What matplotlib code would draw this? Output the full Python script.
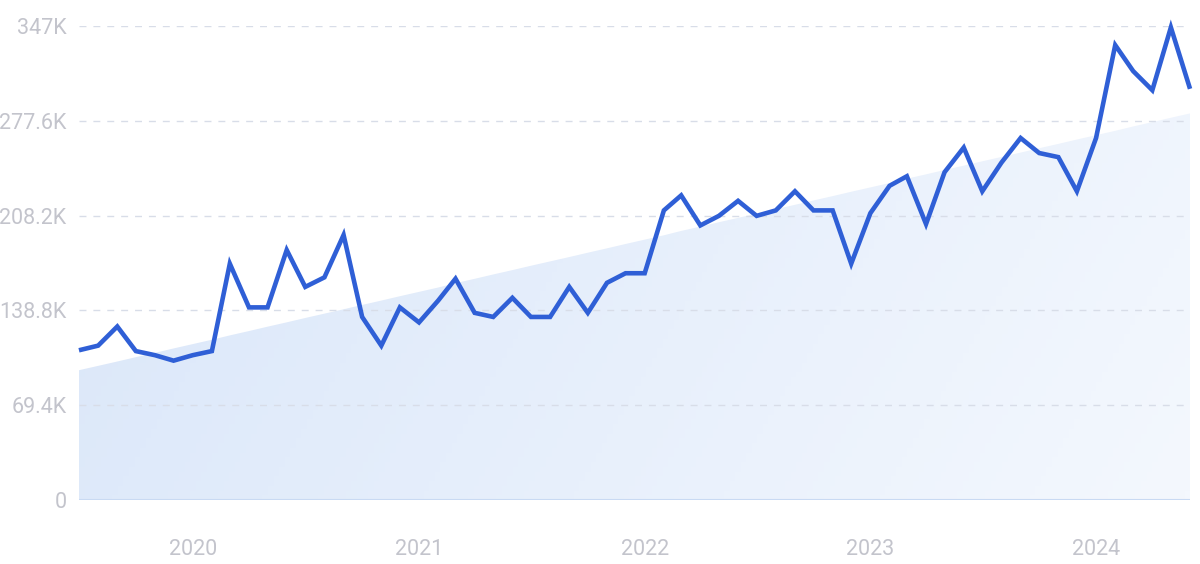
import numpy as np
import pandas as pd
import matplotlib
matplotlib.use("Agg")
import matplotlib.pyplot as plt
import matplotlib.dates as mdates
from matplotlib.colors import LinearSegmentedColormap
from matplotlib.ticker import FixedLocator

# monthly values, Jul 2019 .. Jun 2024 (thousands)
meses = pd.date_range("2019-07-01", "2024-06-01", freq="MS")
valores = [
    109.6, 113, 127, 109, 106, 102, 106, 109, 173, 141,
    141, 183, 156, 163, 194, 134, 113, 141, 130, 146,
    162, 137, 134, 148, 134, 134, 156, 137, 159, 166,
    166, 212, 223, 201, 208, 219, 208, 212, 226, 212,
    212, 173, 210, 230, 237, 202, 240, 258, 226, 247,
    265, 254, 251, 226, 265, 333, 314, 300, 346, 301,
]
tendencia_inicio = 95.0
tendencia_fim = 283.0

y_ticks = [0, 69.4, 138.8, 208.2, 277.6, 347]
y_labels = ["0", "69.4K", "138.8K", "208.2K", "277.6K", "347K"]
anos = ["2020", "2021", "2022", "2023", "2024"]

COR_LINHA = "#2f5fd6"
COR_TEXTO = "#c3c4cc"
COR_GRADE = "#d8dde8"

plt.rcParams["font.family"] = ["Roboto", "DejaVu Sans"]

fig = plt.figure(figsize=(12, 5.64), dpi=100)
ax = fig.add_axes([0.0658, 0.1135, 0.9259, 0.8404])

x = mdates.date2num(meses)
ax.set_xlim(x[0], x[-1])
ax.set_ylim(0, 347)

# area da tendencia com degrade
tend = np.linspace(tendencia_inicio, tendencia_fim, len(x))
poly = ax.fill_between(x, 0, tend, color="none", lw=0)
cmap = LinearSegmentedColormap.from_list("fundo", ["#d9e6f9", "#f4f8fe"])
gx, gy = np.meshgrid(np.linspace(0, 1, 200), np.linspace(0, 1, 100))
grad = (gx * 0.8 + (1 - gy) * 0.2)
img = ax.imshow(grad, cmap=cmap, aspect="auto", origin="lower",
                extent=[x[0], x[-1], 0, 347], zorder=1)
img.set_clip_path(poly.get_paths()[0], transform=ax.transData)

ax.plot(x, valores, color=COR_LINHA, lw=3.3, zorder=3, clip_on=False,
        solid_joinstyle="miter", solid_capstyle="butt")

# grade
for v in y_ticks[1:]:
    ax.axhline(v, color=COR_GRADE, lw=1, ls=(0, (5, 5)), zorder=2)
ax.axhline(0, color="#c9daf3", lw=1.5, zorder=2)

ax.yaxis.set_major_locator(FixedLocator(y_ticks))
ax.set_yticklabels(y_labels)
pos_anos = [mdates.date2num(pd.Timestamp(a + "-01-01")) for a in anos]
ax.set_xticks(pos_anos)
ax.set_xticklabels(anos)

ax.tick_params(axis="both", length=0, labelsize=15.5, colors=COR_TEXTO)
ax.tick_params(axis="y", pad=9)
ax.tick_params(axis="x", pad=28)
for s in ax.spines.values():
    s.set_visible(False)

fig.savefig("out.png", dpi=100)
